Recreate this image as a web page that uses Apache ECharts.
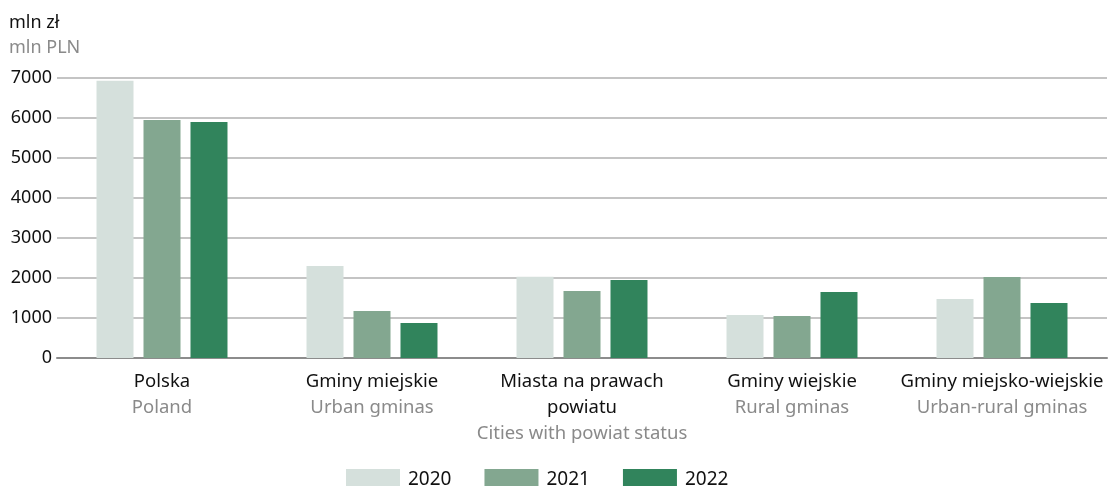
<!DOCTYPE html>
<html><head><meta charset="utf-8">
<script src="https://cdn.jsdelivr.net/npm/echarts@6/dist/echarts.min.js"></script>
<style>html,body{margin:0;padding:0;background:#fff}#c{width:1109px;height:486px}</style>
</head><body><div id="c"></div>
<script>
const categoriesPL = ["Polska", "Gminy miejskie", "Miasta na prawach\npowiatu", "Gminy wiejskie", "Gminy miejsko-wiejskie"];
const categoriesEN = ["Poland", "Urban gminas", "Cities with powiat status", "Rural gminas", "Urban-rural gminas"];
const seriesNames = ["2020", "2021", "2022"];
const values2020 = [6930, 2300, 2030, 1075, 1475];
const values2021 = [5950, 1175, 1675, 1050, 2025];
const values2022 = [5900, 875, 1950, 1650, 1375];
const yTicks = [0, 1000, 2000, 3000, 4000, 5000, 6000, 7000];
const unitPL = "mln zł";
const unitEN = "mln PLN";
const colors = ["#d5e0dc", "#83a790", "#31845c"];
const FONT = "Noto Sans";

const chart = echarts.init(document.getElementById('c'));
const data = [values2020, values2021, values2022];
chart.setOption({
  animation: false,
  textStyle: { fontFamily: FONT },
  graphic: [
    { type: 'text', x: 9, y: 23, style: { text: unitPL, font: '18px "Noto Sans"', fill: '#111', verticalAlign: 'middle' } },
    { type: 'text', x: 9, y: 48, style: { text: unitEN, font: '18px "Noto Sans"', fill: '#8a8a8a', verticalAlign: 'middle' } }
  ],
  legend: {
    top: 464, left: 341, itemWidth: 54, itemHeight: 22, itemGap: 33,
    icon: 'rect',
    textStyle: { fontFamily: FONT, fontSize: 19, color: '#111', padding: [0, 0, 0, 3] },
    data: seriesNames
  },
  grid: { left: 57, right: 2, top: 78, bottom: 128, containLabel: false },
  xAxis: {
    type: 'category',
    data: categoriesPL,
    axisTick: { show: false },
    axisLine: { lineStyle: { color: '#8c8c8c', width: 2 } },
    axisLabel: {
      interval: 0, margin: 11,
      formatter: (v, i) => '{a|' + categoriesPL[i].split('\n').join('}\n{a|') + '}\n{b|' + categoriesEN[i] + '}',
      rich: {
        a: { fontFamily: FONT, fontSize: 18.5, color: '#111', lineHeight: 26 },
        b: { fontFamily: FONT, fontSize: 18.5, color: '#8a8a8a', lineHeight: 26 }
      }
    }
  },
  yAxis: {
    type: 'value', min: yTicks[0], max: yTicks[yTicks.length - 1], interval: 1000,
    axisLine: { show: false }, axisTick: { show: false },
    axisLabel: { fontFamily: FONT, fontSize: 18, color: '#111', margin: 5, formatter: v => String(v) },
    splitLine: { lineStyle: { color: '#b0b0b0', width: 1.5 } }
  },
  series: seriesNames.map((n, k) => ({
    name: n, type: 'bar', data: data[k], barWidth: 37, barGap: '27%',
    itemStyle: { color: colors[k] }
  }))
});
</script></body></html>
